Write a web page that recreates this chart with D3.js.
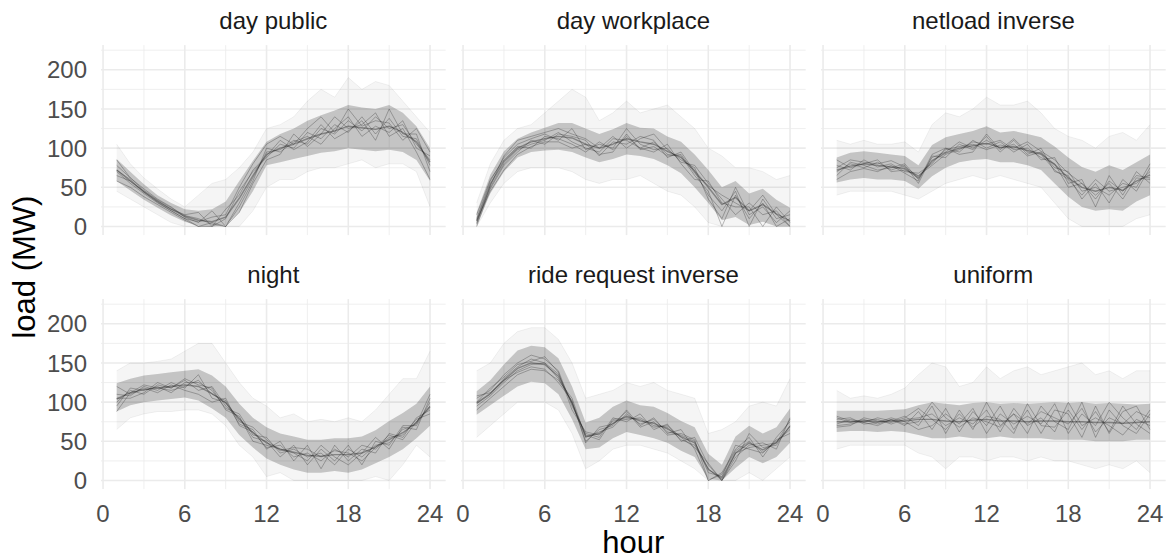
<!DOCTYPE html>
<html>
<head>
<meta charset="utf-8">
<script src="https://cdn.jsdelivr.net/npm/d3@7"></script>
<style>
  body { margin: 0; background: #fff; }
  svg { display: block; }
  text { font-family: "Liberation Sans", Arial, Helvetica, sans-serif; }
</style>
</head>
<body>
<svg id="chart" width="1170" height="559"></svg>
<script>
// ---- data -------------------------------------------------------------
const hours = [1,2,3,4,5,6,7,8,9,10,11,12,13,14,15,16,17,18,19,20,21,22,23,24];
const panelTitles = ["day public", "day workplace", "netload inverse",
                     "night", "ride request inverse", "uniform"];
const xTicks = [0, 6, 12, 18, 24];
const xMinorTicks = [3, 9, 15, 21];
const yTicks = [0, 50, 100, 150, 200];
const yMinorTicks = [25, 75, 125, 175, 225];

// day public
const dayPublicOuterLo = [45,35,25,15,5,0,0,0,0,0,20,50,60,60,70,75,75,80,85,75,80,80,70,25];
const dayPublicOuterHi = [105,80,62,48,35,25,40,55,60,75,95,125,130,140,160,175,165,190,175,185,180,160,140,120];
const dayPublicInnerLo = [58,46,34,24,14,6,1,0,2,18,45,78,82,86,90,94,96,100,98,96,98,95,85,58];
const dayPublicInnerHi = [86,70,54,40,30,22,20,22,32,58,84,108,118,125,135,142,148,155,152,150,155,145,128,100];
const dayPublicMid     = [72,58,44,32,22,13,8,6,12,36,65,92,100,105,112,118,122,128,126,124,128,120,108,82];
const dayPublicRuns = [
  [70,55,42,30,20,10,0,5,0,30,62,95,98,110,105,125,118,135,122,140,125,130,105,85],
  [65,58,45,33,22,15,18,0,10,45,70,88,105,100,120,112,130,120,140,118,138,115,112,78],
  [78,62,48,35,25,12,5,20,0,25,58,100,95,108,115,105,125,140,115,128,120,135,100,90],
  [58,50,38,28,18,8,0,0,22,40,72,90,110,98,108,130,112,122,135,110,150,118,118,70],
  [85,62,46,34,24,14,10,3,0,18,55,85,92,118,102,118,140,125,130,145,115,125,95,60],
  [72,60,44,31,20,10,6,12,15,50,80,105,115,105,125,140,120,150,128,135,132,110,125,95]
];

// day workplace
const dayWorkOuterLo = [0,30,55,70,75,75,75,70,60,55,60,60,65,55,45,40,25,5,0,0,0,0,0,0];
const dayWorkOuterHi = [30,80,110,125,130,145,160,175,165,135,145,160,145,150,155,140,125,100,90,75,75,70,60,65];
const dayWorkInnerLo = [1,42,70,88,95,97,98,95,88,82,86,92,90,86,78,68,50,30,8,12,2,6,0,0];
const dayWorkInnerHi = [18,66,96,112,120,126,132,132,125,118,124,132,126,125,115,108,92,72,50,58,42,48,34,24];
const dayWorkMid     = [7,54,83,100,108,112,115,113,105,100,105,112,108,105,96,88,71,50,28,37,20,28,16,7];
const dayWorkRuns = [
  [5,50,80,98,105,110,120,108,100,95,112,110,100,108,92,90,65,45,0,40,10,30,0,10],
  [10,58,88,105,112,118,110,125,98,105,100,125,105,98,100,82,78,55,35,15,30,15,20,0],
  [0,48,78,95,110,105,118,115,110,90,108,105,115,110,88,95,70,40,20,45,0,35,10,15],
  [15,60,85,102,100,115,112,105,95,108,98,115,100,95,105,80,60,58,30,25,25,0,25,5],
  [3,52,90,110,115,120,125,118,112,100,115,100,112,118,98,85,75,35,10,50,15,25,5,20],
  [8,45,72,92,102,108,108,100,105,92,95,118,98,102,90,92,68,52,40,30,20,40,15,0]
];

// netload inverse
const netloadOuterLo = [40,45,45,45,45,40,35,45,55,60,65,60,65,60,55,50,30,10,0,0,0,0,10,15];
const netloadOuterHi = [110,105,110,105,105,108,95,130,145,140,150,165,155,155,160,145,125,115,110,100,115,120,110,130];
const netloadInnerLo = [56,60,62,60,60,58,48,64,75,82,85,86,82,82,78,72,55,38,25,20,22,20,32,40];
const netloadInnerHi = [88,94,96,94,92,90,78,104,114,118,122,128,120,122,118,114,102,88,76,70,78,72,82,92];
const netloadMid     = [72,77,80,78,76,74,62,84,94,100,103,106,101,102,97,93,79,62,50,45,50,46,58,66];
const netloadRuns = [
  [70,80,75,82,72,78,55,90,88,105,98,115,95,110,92,100,70,65,35,55,30,60,45,75],
  [78,72,85,76,80,70,68,80,100,95,110,100,108,95,105,85,88,55,60,25,65,40,70,55],
  [65,82,78,72,75,80,60,88,95,108,100,110,100,105,90,95,75,70,45,50,40,55,50,80],
  [85,75,80,85,70,72,65,78,92,98,108,105,110,98,100,88,80,50,55,40,55,35,62,60],
  [60,70,74,70,78,68,58,92,100,92,95,118,98,112,95,92,72,60,40,60,45,50,55,70],
  [75,85,82,80,84,76,64,82,98,102,105,98,104,100,108,96,85,68,55,35,58,45,65,62]
];

// night
const nightOuterLo = [65,80,85,88,88,90,90,85,70,45,30,5,10,0,0,0,0,0,0,5,0,20,45,30];
const nightOuterHi = [140,150,150,152,155,165,175,175,150,125,105,95,80,85,75,78,75,80,75,90,110,130,130,165];
const nightInnerLo = [88,96,100,102,104,106,102,92,80,58,42,28,20,14,10,10,12,10,14,22,30,40,54,70];
const nightInnerHi = [124,130,134,136,138,140,142,134,120,98,80,68,60,56,52,52,54,54,56,64,76,86,98,120];
const nightMid     = [104,112,116,118,120,122,120,111,99,78,61,48,40,36,32,31,33,33,35,43,52,61,74,94];
const nightRuns = [
  [100,115,110,122,118,128,115,120,95,80,55,50,30,45,20,40,25,45,20,50,45,70,70,100],
  [110,108,120,115,125,118,135,105,100,72,65,40,50,25,45,15,45,25,40,35,60,55,80,90],
  [95,118,115,120,112,125,125,115,92,85,58,55,35,40,30,35,20,40,30,45,48,65,72,110],
  [120,110,118,112,122,115,110,100,105,70,62,42,45,30,35,25,40,30,45,40,55,58,78,85],
  [105,105,112,125,118,130,122,118,90,82,50,45,40,35,25,45,30,20,35,55,40,68,65,105],
  [88,112,122,118,115,120,128,110,102,75,68,52,38,42,40,30,38,35,25,42,58,52,75,95]
];

// ride request inverse
const rideOuterLo = [55,70,85,100,100,100,90,60,15,25,40,45,45,40,35,25,15,0,0,0,10,0,15,30];
const rideOuterHi = [140,150,175,190,195,195,180,150,105,110,115,125,120,125,115,110,105,60,65,75,95,100,95,130];
const rideInnerLo = [84,96,108,120,126,124,110,78,40,42,54,62,58,54,48,38,30,2,0,16,30,22,30,48];
const rideInnerHi = [114,128,148,166,172,170,156,120,74,80,94,102,96,94,86,76,68,34,20,56,70,60,68,92];
const rideMid     = [99,111,128,143,150,148,133,99,56,60,73,82,76,73,66,56,48,14,3,35,48,39,48,69];
const rideRuns = [
  [95,108,125,140,148,150,130,100,50,65,70,90,70,80,60,65,40,0,10,40,55,30,55,75],
  [105,115,135,150,160,155,140,95,60,55,80,75,85,65,72,50,55,20,0,30,45,48,40,80],
  [90,105,120,135,142,140,128,105,55,62,68,85,72,78,62,58,50,10,5,45,40,35,52,60],
  [100,118,132,148,152,158,138,90,62,58,76,78,80,70,68,52,45,15,0,25,60,42,45,70],
  [108,112,128,138,145,142,125,102,48,68,72,88,68,75,58,60,52,0,8,38,50,36,50,65],
  [98,110,130,145,155,150,136,98,58,52,78,80,78,68,70,55,42,22,0,35,42,45,48,78]
];

// uniform
const uniformOuterLo = [40,45,45,45,45,45,35,30,15,30,30,25,30,30,25,30,25,25,20,15,20,15,25,10];
const uniformOuterHi = [115,105,108,105,110,118,135,150,145,120,125,145,130,140,145,135,140,145,150,135,140,130,140,140];
const uniformInnerLo = [62,63,63,62,63,62,58,54,54,56,54,54,56,54,54,54,52,52,52,50,50,50,52,52];
const uniformInnerHi = [89,89,89,89,90,91,96,100,98,96,99,100,98,99,98,99,100,99,100,98,99,98,97,98];
const uniformMid     = [75,75,76,75,76,76,78,78,76,75,77,78,76,76,75,76,76,75,75,74,74,73,74,75];
const uniformRuns = [
  [72,78,74,80,76,82,70,95,60,90,65,100,70,85,60,95,75,65,100,55,90,70,60,85],
  [80,74,78,72,78,70,88,65,92,62,88,70,95,65,90,60,90,85,55,95,60,88,95,65],
  [70,72,76,78,72,78,80,85,70,80,72,90,62,92,70,80,62,100,70,80,70,58,78,70],
  [78,80,72,74,80,75,65,70,85,72,92,60,85,72,82,72,98,60,85,70,100,80,65,90],
  [68,70,80,76,74,80,92,78,65,85,68,82,78,60,98,70,68,90,65,88,62,95,72,60],
  [82,76,74,70,78,72,75,100,80,68,80,75,68,85,72,88,80,72,92,62,80,72,88,80]
];

// ---- panel table ------------------------------------------------------
const panels = [
  { title: panelTitles[0], lo: dayPublicOuterLo, hi: dayPublicOuterHi, qlo: dayPublicInnerLo, qhi: dayPublicInnerHi, mid: dayPublicMid, runs: dayPublicRuns },
  { title: panelTitles[1], lo: dayWorkOuterLo,   hi: dayWorkOuterHi,   qlo: dayWorkInnerLo,   qhi: dayWorkInnerHi,   mid: dayWorkMid,   runs: dayWorkRuns },
  { title: panelTitles[2], lo: netloadOuterLo,   hi: netloadOuterHi,   qlo: netloadInnerLo,   qhi: netloadInnerHi,   mid: netloadMid,   runs: netloadRuns },
  { title: panelTitles[3], lo: nightOuterLo,     hi: nightOuterHi,     qlo: nightInnerLo,     qhi: nightInnerHi,     mid: nightMid,     runs: nightRuns },
  { title: panelTitles[4], lo: rideOuterLo,      hi: rideOuterHi,      qlo: rideInnerLo,      qhi: rideInnerHi,      mid: rideMid,      runs: rideRuns },
  { title: panelTitles[5], lo: uniformOuterLo,   hi: uniformOuterHi,   qlo: uniformInnerLo,   qhi: uniformInnerHi,   mid: uniformMid,   runs: uniformRuns }
];

// ---- layout -----------------------------------------------------------
const svg = d3.select("#chart");
const colLeft = [101, 461, 821];
const rowTop = [45.1, 299.1];
const panelW = 344.7, panelH = 190;
const xDomain = [-0.15, 25.15];
const yDomain = [-11, 231.5];
const gridColor = "#ebebeb";
const tickColor = "#4d4d4d";
const smallFont = 24, titleFont = 31;

panels.forEach((p, i) => {
  const col = i % 3, row = Math.floor(i / 3);
  const x = d3.scaleLinear().domain(xDomain).range([colLeft[col], colLeft[col] + panelW]);
  const y = d3.scaleLinear().domain(yDomain).range([rowTop[row] + panelH, rowTop[row]]);
  const g = svg.append("g");

  // grid
  const grid = g.append("g");
  grid.append("g").selectAll("line").data(yMinorTicks).join("line")
    .attr("x1", x.range()[0]).attr("x2", x.range()[1])
    .attr("y1", d => y(d)).attr("y2", d => y(d))
    .attr("stroke", gridColor).attr("stroke-width", 0.8);
  grid.append("g").selectAll("line").data(xMinorTicks).join("line")
    .attr("y1", y.range()[0]).attr("y2", y.range()[1])
    .attr("x1", d => x(d)).attr("x2", d => x(d))
    .attr("stroke", gridColor).attr("stroke-width", 0.8);
  grid.append("g").selectAll("line").data(yTicks).join("line")
    .attr("x1", x.range()[0]).attr("x2", x.range()[1])
    .attr("y1", d => y(d)).attr("y2", d => y(d))
    .attr("stroke", gridColor).attr("stroke-width", 1.6);
  grid.append("g").selectAll("line").data(xTicks).join("line")
    .attr("y1", y.range()[0]).attr("y2", y.range()[1])
    .attr("x1", d => x(d)).attr("x2", d => x(d))
    .attr("stroke", gridColor).attr("stroke-width", 1.6);

  // load profiles: spread bands, individual runs and the central profile
  const rows = (lo, hi) => hours.map((h, k) => ({ h, lo: lo[k], hi: hi[k] }));
  const area = d3.area().x(d => x(d.h)).y0(d => y(d.lo)).y1(d => y(d.hi));
  const line = d3.line().x((v, k) => x(hours[k])).y(v => y(v));

  g.append("path").attr("d", area(rows(p.lo, p.hi)))
    .attr("fill", "#000").attr("fill-opacity", 0.04);
  g.append("path").attr("d", area(rows(p.qlo, p.qhi)))
    .attr("fill", "#000").attr("fill-opacity", 0.2);
  [p.lo, p.hi].forEach(s => g.append("path").attr("d", line(s))
    .attr("fill", "none").attr("stroke", "#000").attr("stroke-opacity", 0.07).attr("stroke-width", 0.8));
  p.runs.forEach(s => g.append("path").attr("d", line(s))
    .attr("fill", "none").attr("stroke", "#222").attr("stroke-opacity", 0.3).attr("stroke-width", 1)
    .attr("stroke-linejoin", "round"));
  g.append("path").attr("d", line(p.mid))
    .attr("fill", "none").attr("stroke", "#222").attr("stroke-opacity", 0.4).attr("stroke-width", 1.4)
    .attr("stroke-linejoin", "round");

  // strip title
  g.append("text")
    .attr("x", (x.range()[0] + x.range()[1]) / 2)
    .attr("y", rowTop[row] - 16.6)
    .attr("text-anchor", "middle")
    .attr("font-size", smallFont).attr("fill", "#1a1a1a")
    .text(p.title);

  // y tick labels on the first column
  if (col === 0) {
    g.append("g").selectAll("text").data(yTicks).join("text")
      .attr("x", 87).attr("y", d => y(d)).attr("dy", "0.36em")
      .attr("text-anchor", "end").attr("font-size", smallFont).attr("fill", tickColor)
      .text(d => d);
  }
  // x tick labels on the bottom row
  if (row === 1) {
    g.append("g").selectAll("text").data(xTicks).join("text")
      .attr("x", d => x(d)).attr("y", 522)
      .attr("text-anchor", "middle").attr("font-size", smallFont).attr("fill", tickColor)
      .text(d => d);
  }
});

// axis titles
svg.append("text")
  .attr("x", (colLeft[0] + colLeft[2] + panelW) / 2).attr("y", 553)
  .attr("text-anchor", "middle").attr("font-size", titleFont).attr("fill", "#000")
  .text("hour");
svg.append("text")
  .attr("transform", `translate(35,${(rowTop[0] + rowTop[1] + panelH) / 2}) rotate(-90)`)
  .attr("text-anchor", "middle").attr("font-size", titleFont).attr("fill", "#000")
  .text("load (MW)");
</script>
</body>
</html>
